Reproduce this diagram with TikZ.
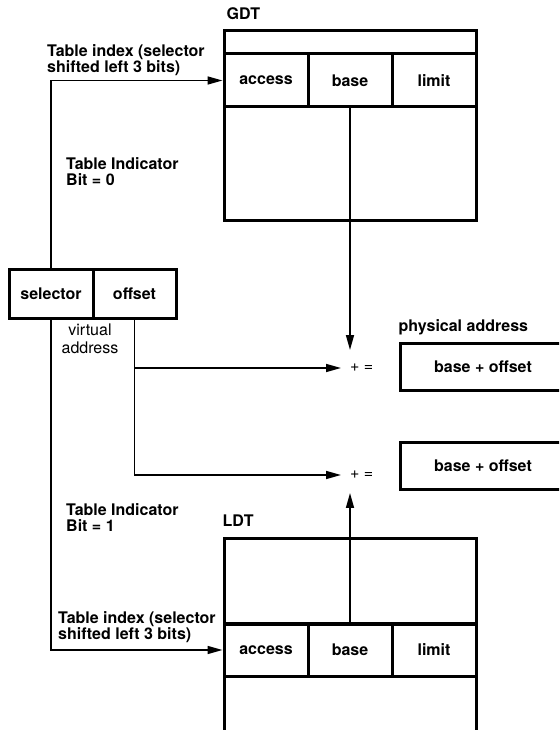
\documentclass[tikz,border=0pt]{standalone}
\usepackage{fontspec}
\setmainfont{TeX Gyre Heros}
\usetikzlibrary{arrows.meta}
\begin{document}
\begin{tikzpicture}[x=1pt,y=-1pt,font=\fontsize{16}{16.5}\selectfont\bfseries,
  cell/.style={draw,line width=3pt,minimum width=84pt,minimum height=53pt,inner sep=0pt},
  conn/.style={line width=1.6pt,-{Triangle[length=15pt,width=8pt]}},
  lbl/.style={align=left,anchor=north west,inner sep=0pt},
  title/.style={anchor=base west,inner sep=0pt,yshift=10pt},
  plus/.style={inner xsep=9pt,inner ysep=14pt,font=\fontsize{16}{16.5}\selectfont}]
\useasboundingbox (0,0) rectangle (559,730);
\clip (0,0) rectangle (559,730);
\node[cell,minimum width=252pt,minimum height=23pt] (ghead) at (350,42.5) {};
\node[cell] (gacc) at (266,80.5) {access};
\node[cell] (gbase) at (350,80.5) {base};
\node[cell] (glim) at (434,80.5) {limit};
\node[cell,minimum width=252pt,minimum height=113pt] (grest) at (350,163.5) {};
\node[title] (gname) at (ghead.north west) [xshift=4pt] {GDT};
\node[cell,minimum width=252pt,minimum height=86pt] (ltop) at (350,581) {};
\node[cell] (lacc) at (266,650) {access};
\node[cell] (lbase) at (350,650) {base};
\node[cell] (llim) at (434,650) {limit};
\node[cell,minimum width=252pt,minimum height=80pt] (lrest) at (350,716) {};
\node[title] (lname) at (ltop.north west) {LDT};
\node[cell,minimum height=49pt] (sel) at (51,293.5) {selector};
\node[cell,minimum width=83pt,minimum height=49pt] (off) at (134.5,293.5) {offset};
\node[align=center,inner sep=0pt,font=\fontsize{16}{18}\selectfont] (virt) at (90,339) {virtual\\address};
\node[plus,anchor=west] (plus1) at (341,368) {+ =};
\node[plus,anchor=west] (plus2) at (341,475) {+ =};
\node[cell,minimum width=166pt,minimum height=47pt] (phys1) at (483,366.5) {base + offset};
\node[cell,minimum width=166pt,minimum height=47pt] (phys2) at (483,466) {base + offset};
\node[title] (physname) at (phys1.north west) {physical address};
\node[lbl] (gidx) at (47,44) {Table index (selector\\shifted left 3 bits)};
\node[lbl] (gbit) at (66,157) {Table Indicator\\Bit = 0};
\node[lbl] (lbit) at (66,503) {Table Indicator\\Bit = 1};
\node[lbl] (lidx) at (58,611) {Table index (selector\\shifted left 3 bits)};
\draw[conn] (sel.north) |- (gacc.west);
\draw[conn] (sel.south) |- (lacc.west);
\draw[conn] (off.south) |- (plus1.west);
\draw[conn] (off.south) |- (plus2.west);
\draw[conn] (gbase.south) -- (gbase.south |- plus1.north);
\draw[conn] (lbase.north) -- (lbase.north |- plus2.south);
\end{tikzpicture}
\end{document}
